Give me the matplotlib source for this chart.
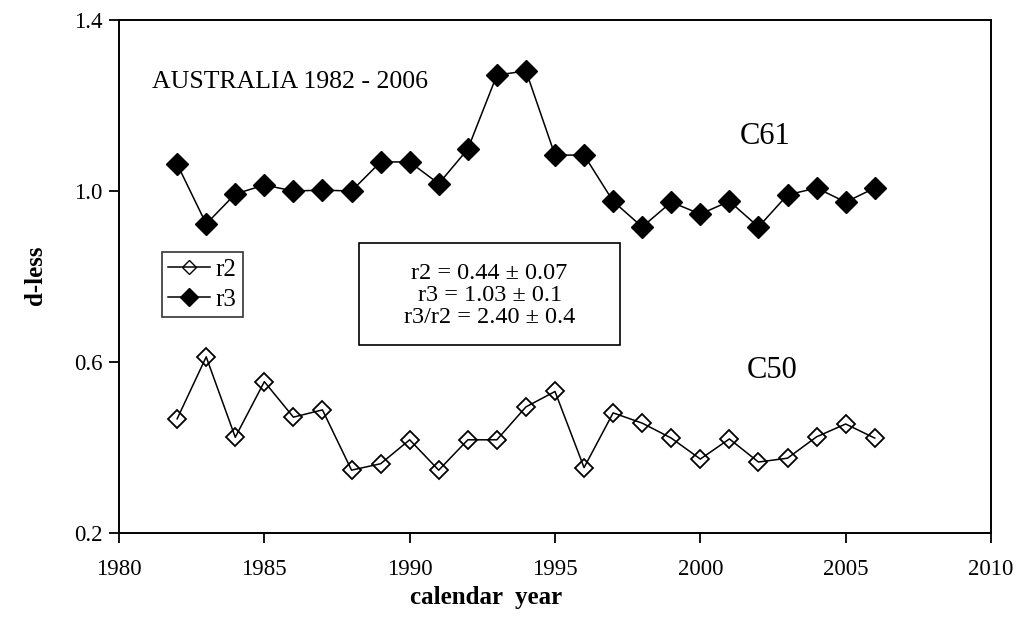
import matplotlib
matplotlib.use('Agg')
import matplotlib.pyplot as plt
from matplotlib.lines import Line2D
from matplotlib.patches import Rectangle

plt.rcParams['font.family'] = ['Liberation Serif', 'DejaVu Serif']

years = list(range(1982, 2007))
r2 = [0.467, 0.612, 0.424, 0.554, 0.471, 0.488, 0.347, 0.362, 0.418, 0.347,
      0.418, 0.418, 0.495, 0.531, 0.353, 0.481, 0.457, 0.422, 0.373, 0.420,
      0.366, 0.375, 0.425, 0.455, 0.422]
r3 = [1.063, 0.923, 0.993, 1.014, 1.000, 1.002, 1.000, 1.068, 1.068, 1.017,
      1.098, 1.271, 1.281, 1.084, 1.084, 0.976, 0.916, 0.974, 0.946, 0.976,
      0.916, 0.991, 1.007, 0.974, 1.007]
xticks = [1980, 1985, 1990, 1995, 2000, 2005, 2010]
yticks = [0.2, 0.6, 1.0, 1.4]
stats_text = 'r2 = 0.44 \u00b1 0.07\nr3 = 1.03 \u00b1 0.1\nr3/r2 = 2.40 \u00b1 0.4'

fig = plt.figure(figsize=(10.21, 6.32), dpi=100)
ax = fig.add_axes([119/1021, 1 - 533/632, (991-119)/1021, (533-20)/632])

ax.plot(years, r2, color='black', lw=1.1, marker='D', ms=9.5,
        mfc='none', mec='black', mew=1.3)
ax.plot(years, r3, color='black', lw=1.1, marker='D', ms=11,
        mfc='black', mec='black')

ax.set_xlim(1980, 2010)
ax.set_ylim(0.2, 1.4)
ax.set_xticks(xticks)
ax.set_yticks(yticks)
ax.set_yticklabels(['%.1f' % v for v in yticks])
ax.tick_params(direction='out', length=7, width=1.3, labelsize=16.5, pad=5)
ax.tick_params(axis='x', pad=12)
for s in ax.spines.values():
    s.set_linewidth(1.4)

ax.set_xlabel('calendar  year', fontsize=18, fontweight='bold')
ax.xaxis.set_label_coords(0.421, -0.125)
ax.xaxis.label.set_va('center')
ax.set_ylabel('d-less', fontsize=18, fontweight='bold')
ax.yaxis.set_label_coords(-0.096, 0.503)
ax.yaxis.label.set_va('center')

fig.text(152/1021, 1 - 82/632, 'AUSTRALIA 1982 - 2006', fontsize=18.5,
         va='center', ha='left')
ax.text(0.741, 0.773, 'C61', fontsize=22, ha='center', va='center', transform=ax.transAxes)
ax.text(0.749, 0.317, 'C50', fontsize=22, ha='center', va='center', transform=ax.transAxes)

# stats box
ax.add_patch(Rectangle((0.275, 0.3665), 0.300, 0.1985, transform=ax.transAxes,
                       fc='white', ec='black', lw=1.2, zorder=3))
ax.text(0.425, 0.463, stats_text, fontsize=17.5, ha='center', va='center',
        multialignment='center', linespacing=1.06, transform=ax.transAxes, zorder=4)

handles = [Line2D([], [], color='black', lw=1.1, marker='D', ms=7.5, mfc='none', mec='black'),
           Line2D([], [], color='black', lw=1.1, marker='D', ms=9.5, mfc='black', mec='black')]
leg = ax.legend(handles, ['r2', 'r3'], loc='upper left', bbox_to_anchor=(0.049, 0.548),
                fontsize=18, frameon=True, fancybox=False, edgecolor='black',
                handlelength=1.7, handletextpad=0.2, borderpad=0.25, labelspacing=0.3,
                borderaxespad=0)
leg.get_frame().set_linewidth(1.2)

fig.savefig('out.png', dpi=100)
